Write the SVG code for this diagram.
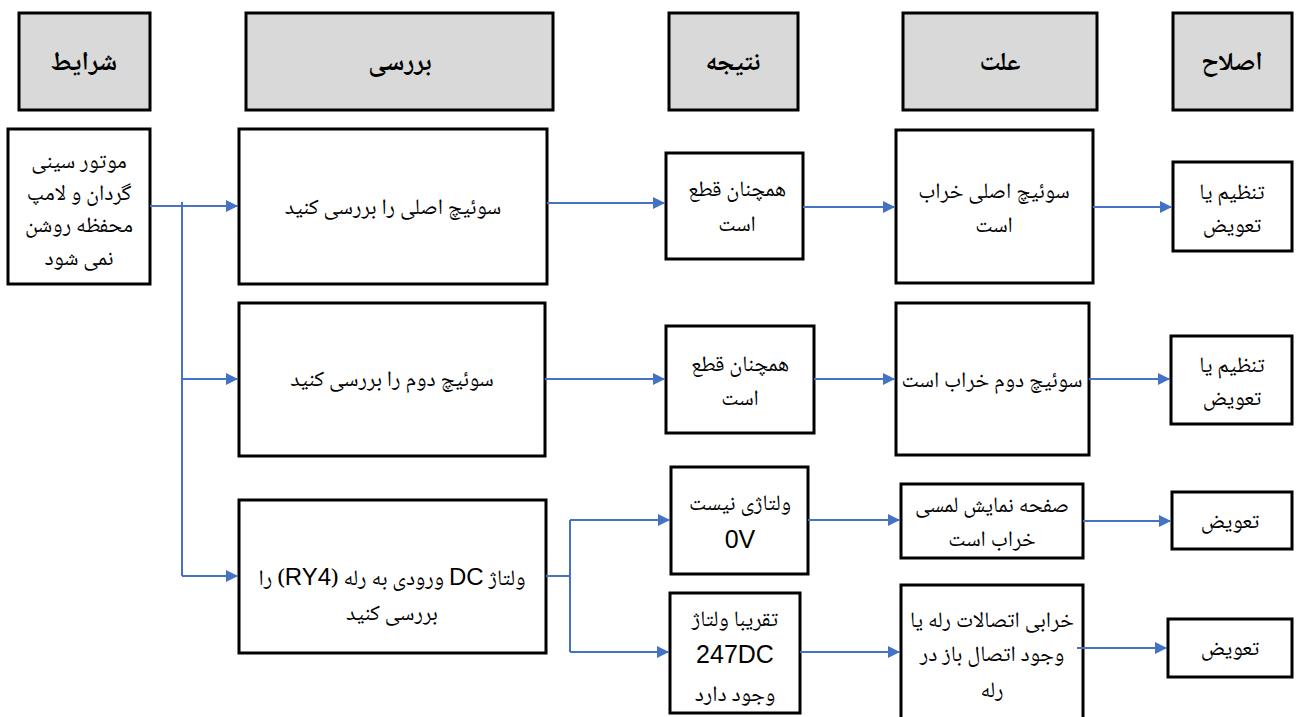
<svg xmlns="http://www.w3.org/2000/svg" width="1296" height="717" viewBox="0 0 1296 717">
<style>
.hdr{fill:#d9d9d9;stroke:#000;stroke-width:3}
.box{fill:#fff;stroke:#000;stroke-width:3}
.ht{font-family:"Noto Naskh Arabic","Noto Serif Arabic","Liberation Serif","DejaVu Sans",serif;font-weight:bold;font-size:26px;text-anchor:middle;direction:rtl}
.t{font-family:"Noto Naskh Arabic","Noto Serif Arabic","Liberation Serif","DejaVu Sans",serif;font-size:22px;text-anchor:middle;direction:rtl}
.a{font-family:"Liberation Sans",Arial,sans-serif;font-size:25px;text-anchor:middle}
.c{fill:none;stroke:#4472c4;stroke-width:2}
</style>
<defs>
<marker id="ah" viewBox="0 0 10 10" refX="10" refY="5" markerWidth="12" markerHeight="12" markerUnits="userSpaceOnUse" orient="auto">
<path d="M0,0 L10,5 L0,10 z" fill="#4472c4"/>
</marker>
</defs>

<g id="h1"><rect class="hdr" x="19" y="13" width="131" height="97"/><text class="ht" x="84" y="70">شرایط</text></g>
<g id="h2"><rect class="hdr" x="246" y="13" width="307" height="97"/><text class="ht" x="400" y="70">بررسی</text></g>
<g id="h3"><rect class="hdr" x="669" y="13" width="129" height="97"/><text class="ht" x="733" y="70">نتیجه</text></g>
<g id="h4"><rect class="hdr" x="903" y="13" width="194" height="97"/><text class="ht" x="1000" y="70">علت</text></g>
<g id="h5"><rect class="hdr" x="1173" y="13" width="119" height="97"/><text class="ht" x="1232" y="70">اصلاح</text></g>

<g id="cond"><rect class="box" x="8" y="129" width="142" height="155"/>
<text class="t"><tspan x="79" y="168">موتور سینی</tspan><tspan x="79" y="200">گردان و لامپ</tspan><tspan x="79" y="232">محفظه روشن</tspan><tspan x="79" y="265">نمی شود</tspan></text></g>

<g id="c1"><rect class="box" x="239" y="129" width="308" height="155"/><text class="t" x="393" y="214">سوئیچ اصلی را بررسی کنید</text></g>
<g id="c2"><rect class="box" x="239" y="303" width="306" height="153"/><text class="t" x="392" y="386">سوئیچ دوم را بررسی کنید</text></g>
<g id="c3"><rect class="box" x="239" y="500" width="307" height="153"/>
<text class="t"><tspan x="392" y="585">ولتاژ <tspan class="a" style="font-size:24px">DC</tspan> ورودی به رله (<tspan class="a" style="font-size:24px">RY4</tspan>) را</tspan><tspan x="392" y="620">بررسی کنید</tspan></text></g>

<g id="r1"><rect class="box" x="666" y="153" width="137" height="106"/><text class="t"><tspan x="737" y="196">همچنان قطع</tspan><tspan x="737" y="231">است</tspan></text></g>
<g id="r2"><rect class="box" x="666" y="326" width="148" height="107"/><text class="t"><tspan x="740" y="371">همچنان قطع</tspan><tspan x="740" y="405">است</tspan></text></g>
<g id="r3"><rect class="box" x="671" y="467" width="137" height="107"/><text class="t"><tspan x="740" y="510">ولتاژی نیست</tspan><tspan class="a" x="740" y="548">0V</tspan></text></g>
<g id="r4"><rect class="box" x="670" y="593" width="130" height="120"/><text class="t"><tspan x="735" y="626">تقریبا ولتاژ</tspan><tspan class="a" x="735" y="663">247DC</tspan><tspan x="735" y="701">وجود دارد</tspan></text></g>

<g id="k1"><rect class="box" x="896" y="130" width="197" height="153"/><text class="t"><tspan x="994" y="198">سوئیچ اصلی خراب</tspan><tspan x="994" y="232">است</tspan></text></g>
<g id="k2"><rect class="box" x="896" y="303" width="193" height="152"/><text class="t" x="992" y="387">سوئیچ دوم خراب است</text></g>
<g id="k3"><rect class="box" x="901" y="484" width="182" height="74"/><text class="t"><tspan x="992" y="512">صفحه نمایش لمسی</tspan><tspan x="992" y="546">خراب است</tspan></text></g>
<g id="k4"><rect class="box" x="901" y="585" width="182" height="140"/><text class="t"><tspan x="992" y="627">خرابی اتصالات رله یا</tspan><tspan x="992" y="661">وجود اتصال باز در</tspan><tspan x="992" y="697">رله</tspan></text></g>

<g id="f1"><rect class="box" x="1173" y="162" width="119" height="89"/><text class="t"><tspan x="1232" y="199">تنظیم یا</tspan><tspan x="1232" y="232">تعویض</tspan></text></g>
<g id="f2"><rect class="box" x="1171" y="336" width="121" height="88"/><text class="t"><tspan x="1232" y="372">تنظیم یا</tspan><tspan x="1232" y="405">تعویض</tspan></text></g>
<g id="f3"><rect class="box" x="1172" y="492" width="120" height="57"/><text class="t" x="1230" y="528">تعویض</text></g>
<g id="f4"><rect class="box" x="1168" y="619" width="124" height="58"/><text class="t" x="1230" y="655">تعویض</text></g>

<g id="connectors">
<path class="c" d="M150,206 H238" marker-end="url(#ah)"/>
<path class="c" d="M182,202 V576"/>
<path class="c" d="M182,379 H238" marker-end="url(#ah)"/>
<path class="c" d="M182,576 H238" marker-end="url(#ah)"/>
<path class="c" d="M547,203 H665" marker-end="url(#ah)"/>
<path class="c" d="M803,207 H895" marker-end="url(#ah)"/>
<path class="c" d="M1093,207 H1172" marker-end="url(#ah)"/>
<path class="c" d="M545,379 H665" marker-end="url(#ah)"/>
<path class="c" d="M814,379 H895" marker-end="url(#ah)"/>
<path class="c" d="M1089,379 H1170" marker-end="url(#ah)"/>
<path class="c" d="M546,576 H570 M570,520 V652"/>
<path class="c" d="M570,520 H670" marker-end="url(#ah)"/>
<path class="c" d="M570,652 H669" marker-end="url(#ah)"/>
<path class="c" d="M808,520 H900" marker-end="url(#ah)"/>
<path class="c" d="M800,652 H900" marker-end="url(#ah)"/>
<path class="c" d="M1083,521 H1171" marker-end="url(#ah)"/>
<path class="c" d="M1077,648 H1167" marker-end="url(#ah)"/>
</g>
</svg>
